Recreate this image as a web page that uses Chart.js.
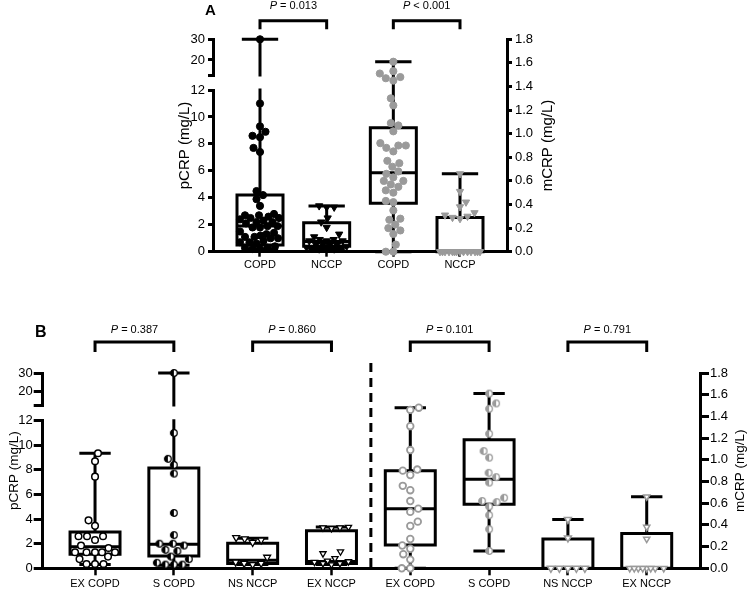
<!DOCTYPE html>
<html lang="en">
<head>
<meta charset="UTF-8">
<title>pCRP and mCRP in COPD and NCCP</title>
<script src="https://cdn.jsdelivr.net/npm/chart.js@4"></script>
<style>
    body { margin: 0; background: #fff; }
    canvas { position: absolute; left: 0; }
    #chartA { top: 0; }
    #chartB { top: 290px; }
</style>
</head>
<body>
<canvas id="chartA" width="753" height="290"></canvas>
<canvas id="chartB" width="753" height="299"></canvas>
<script>
// ---- data ----
const categoriesA = ['COPD', 'NCCP', 'COPD', 'NCCP'];
const categoriesB = ['EX COPD', 'S COPD', 'NS NCCP', 'EX NCCP', 'EX COPD', 'S COPD', 'NS NCCP', 'EX NCCP'];

// panel A, pCRP (mg/L)
const pcrpCopdA = [30, 11, 9.3, 8.9, 8.6, 8.5, 7.7, 7.4, 4.5, 4.2, 3.9, 3.4, 2.8, 2.7, 2.7, 2.6, 2.5, 2.5, 2.4, 2.3, 2.2, 2.2, 2.1, 1.9, 1.9, 1.8, 1.8, 1.5, 1.4, 1.3, 1.2, 1.1, 1.1, 1.0, 1.0, 0.8, 0.7, 0.7, 0.6, 0.4, 0.3, 0.3, 0.2, 0.2];
const pcrpNccpA = [3.4, 3.3, 3.3, 2.5, 2.2, 1.8, 1.3, 1.1, 0.9, 0.9, 0.8, 0.8, 0.8, 0.5, 0.5, 0.5, 0.5, 0.4, 0.3, 0.3, 0.3, 0.2, 0.2, 0.2];
// panel A, mCRP (mg/L)
const mcrpCopdA = [1.61, 1.53, 1.51, 1.48, 1.47, 1.45, 1.30, 1.24, 1.09, 1.07, 1.02, 0.92, 0.90, 0.90, 0.88, 0.85, 0.77, 0.75, 0.72, 0.68, 0.66, 0.63, 0.60, 0.60, 0.57, 0.55, 0.52, 0.50, 0.43, 0.42, 0.35, 0.28, 0.27, 0.23, 0.20, 0.18, 0.15, 0.06, 0, 0];
const mcrpNccpA = [0.66, 0.51, 0.42, 0.38, 0.33, 0.31, 0.30, 0.29, 0.28, 0, 0, 0, 0, 0, 0, 0, 0, 0, 0, 0, 0, 0, 0];

// box stats [min, q1, median, q3, max]
const statsPCopdA = [0.2, 0.5, 1.9, 4.2, 30];
const statsPNccpA = [0.2, 0.4, 0.75, 2.15, 3.4];
const statsMCopdA = [0, 0.41, 0.67, 1.05, 1.61];
const statsMNccpA = [0, 0, 0, 0.29, 0.66];
const pTextA = ['= 0.013', '< 0.001'];

// panel B, pCRP (mg/L)
const pcrpExCopdB = [9.35, 8.7, 7.45, 3.9, 3.45, 2.6, 2.6, 2.6, 2.3, 1.85, 1.65, 1.3, 1.3, 1.3, 1.3, 1.3, 0.95, 0.75, 0.35, 0.35, 0.35];
const pcrpSCopdB = [30, 11, 8.9, 8.4, 7.7, 4.5, 2.7, 2.0, 2.0, 1.85, 1.5, 1.4, 0.95, 0.75, 0.45, 0.3, 0.3, 0.3];
const pcrpNsNccpB = [2.5, 2.4, 2.3, 2.1, 0.9, 0.5, 0.4, 0.4, 0.3];
const pcrpExNccpB = [3.35, 3.3, 3.3, 3.25, 1.35, 1.2, 0.8, 0.6, 0.55, 0.5, 0.4, 0.4, 0.3];
// panel B, mCRP (mg/L)
const mcrpExCopdB = [1.48, 1.46, 1.31, 1.09, 0.91, 0.90, 0.86, 0.76, 0.72, 0.62, 0.55, 0.52, 0.43, 0.39, 0.27, 0.21, 0.18, 0.13, 0.08, 0, 0];
const mcrpSCopdB = [1.61, 1.52, 1.47, 1.24, 1.08, 1.02, 0.88, 0.84, 0.79, 0.65, 0.62, 0.61, 0.57, 0.49, 0.36, 0.16];
const mcrpNsNccpB = [0.45, 0.28, 0, 0, 0, 0, 0];
const mcrpExNccpB = [0.66, 0.38, 0.27, 0, 0, 0, 0, 0, 0, 0, 0];

const statsPExCopdB = [0.3, 1.15, 1.75, 2.95, 9.35];
const statsPSCopdB = [0.25, 1.0, 1.95, 8.15, 30];
const statsPNsNccpB = [0.3, 0.4, 0.65, 2.03, 2.45];
const statsPExNccpB = [0.3, 0.4, 0.55, 3.05, 3.35];
const statsMExCopdB = [0, 0.215, 0.55, 0.9, 1.48];
const statsMSCopdB = [0.16, 0.59, 0.82, 1.185, 1.61];
const statsMNsNccpB = [0, 0, 0, 0.27, 0.45];
const statsMExNccpB = [0, 0, 0, 0.32, 0.66];
const pTextB = ['= 0.387', '= 0.860', '= 0.101', '= 0.791'];

// axis ticks
const ticksLow = [0, 2, 4, 6, 8, 10, 12];
const ticksHigh = [20, 30];
const ticksRight = [0, 0.2, 0.4, 0.6, 0.8, 1.0, 1.2, 1.4, 1.6, 1.8];
const LOW_MAX = 12;

// ---- styles ----
Chart.defaults.font.family = '"Liberation Sans", Arial, sans-serif';
Chart.defaults.color = '#000';
const GREY = '#9a9a9a';

function halfDot(color, r) {
    const c = document.createElement('canvas');
    const s = Math.ceil(2 * r + 3);
    c.width = c.height = s;
    const g = c.getContext('2d');
    const m = s / 2;
    g.fillStyle = '#fff';
    g.beginPath(); g.arc(m, m, r, 0, Math.PI * 2); g.fill();
    g.fillStyle = color;
    g.beginPath(); g.arc(m, m, r, Math.PI / 2, Math.PI * 1.5); g.closePath(); g.fill();
    g.strokeStyle = color; g.lineWidth = 1.3;
    g.beginPath(); g.arc(m, m, r, 0, Math.PI * 2); g.stroke();
    return c;
}

const dot = (fill, line, r, w) => ({ pointStyle: 'circle', pointRadius: r, pointBackgroundColor: fill, pointBorderColor: line, pointBorderWidth: w });
const tri = (fill, line, r, w) => ({ pointStyle: 'triangle', pointRotation: 180, pointRadius: r, pointBackgroundColor: fill, pointBorderColor: line, pointBorderWidth: w });
const half = (color, r) => ({ pointStyle: halfDot(color, r), pointRadius: r });

const layoutA = {
    padding: { left: 163, right: 196, top: 39.3, bottom: 8.3 },
    leftW: 50, rightW: 50, xHeight: 30,
    xMin: -0.705, xMax: 3.705,
    highMin: 12.75, wHigh: 35.7, wGap: 15, wLow: 161.7,
    tick: 5, xTick: 5, tickPad: 3, xPad: 2, xFont: 11, yFont: 13, titleFont: 15,
    boxHalf: 0.345, capHalf: 0.25, dot: 7.5, maxSpread: 40,
    titleOffL: 28, titleOffR: 41,
    bracketUp: 18.6, bracketLeg: 8.6, textUp: 30.8, pFont: 11,
    letter: 'A', letterX: 205, letterY: 15, letterSize: 15
};
const layoutB = {
    padding: { left: 2.7, right: 8, top: 83, bottom: 0.7 },
    leftW: 40, rightW: 45, xHeight: 20,
    xMin: -0.664, xMax: 7.676,
    highMin: 12.9, wHigh: 32, wGap: 15.7, wLow: 147.6,
    tick: 9, xTick: 7, tickPad: 1, xPad: 2, xFont: 11, yFont: 13, titleFont: 13.5,
    boxHalf: 0.317, capHalf: 0.18, dot: 8.5, maxSpread: 40,
    titleOffL: 28.7, titleOffR: 40,
    bracketUp: 31, bracketLeg: 10, textUp: 40, pFont: 11,
    letter: 'B', letterX: 35, letterY: 47, letterSize: 16,
    divider: 3.5, dividerUp: 10
};

const groupsA = [
    { pos: 0, side: 'p', values: pcrpCopdA, stats: statsPCopdA, marker: dot('#000', '#000', 3.6, 1) },
    { pos: 1, side: 'p', values: pcrpNccpA, stats: statsPNccpA, marker: tri('#000', '#000', 4.2, 1) },
    { pos: 2, side: 'm', values: mcrpCopdA, stats: statsMCopdA, marker: dot(GREY, GREY, 3.6, 1) },
    { pos: 3, side: 'm', values: mcrpNccpA, stats: statsMNccpA, marker: tri(GREY, GREY, 4.2, 1) }
];
const groupsB = [
    { pos: 0, side: 'p', values: pcrpExCopdB, stats: statsPExCopdB, marker: dot('#fff', '#000', 3.3, 1.5) },
    { pos: 1, side: 'p', values: pcrpSCopdB, stats: statsPSCopdB, marker: half('#000', 3.3) },
    { pos: 2, side: 'p', values: pcrpNsNccpB, stats: statsPNsNccpB, marker: tri('#fff', '#000', 4, 1.3) },
    { pos: 3, side: 'p', values: pcrpExNccpB, stats: statsPExNccpB, marker: tri('#fff', '#000', 3.6, 1.3) },
    { pos: 4, side: 'm', values: mcrpExCopdB, stats: statsMExCopdB, marker: dot('#fff', GREY, 3.3, 1.8) },
    { pos: 5, side: 'm', values: mcrpSCopdB, stats: statsMSCopdB, marker: half(GREY, 3.3) },
    { pos: 6, side: 'm', values: mcrpNsNccpB, stats: statsMNsNccpB, marker: tri('#fff', GREY, 4, 1.5) },
    { pos: 7, side: 'm', values: mcrpExNccpB, stats: statsMExNccpB, marker: tri('#fff', GREY, 3.6, 1.5) }
];

// ---- datasets ----
function boxLines(g, L) {
    const [mn, q1, md, q3, mx] = g.stats;
    const p = g.pos, h = L.boxHalf, c = L.capHalf;
    const split = g.side === 'p' && mx > LOW_MAX;
    const brk = { x: p, y: null };
    const low = [
        { x: p - h, y: q1 }, { x: p + h, y: q1 }, { x: p + h, y: q3 }, { x: p - h, y: q3 }, { x: p - h, y: q1 }, brk,
        { x: p - h, y: md }, { x: p + h, y: md }, brk,
        { x: p, y: mn }, { x: p, y: q1 }, brk,
        { x: p, y: q3 }, { x: p, y: split ? LOW_MAX : mx }, brk,
        { x: p - c, y: mn }, { x: p + c, y: mn }
    ];
    const high = [];
    if (split) {
        high.push({ x: p, y: L.highMin }, { x: p, y: mx }, brk, { x: p - c, y: mx }, { x: p + c, y: mx });
    } else {
        low.push(brk, { x: p - c, y: mx }, { x: p + c, y: mx });
    }
    return { low, high };
}

function lineSet(data, axis) {
    return {
        type: 'line', data: data, yAxisID: axis, showLine: true, spanGaps: false,
        borderColor: '#000', borderWidth: 3, pointRadius: 0, tension: 0,
        borderCapStyle: 'square', borderJoinStyle: 'miter', clip: false, order: 1
    };
}

function pointSet(g, vals, axis) {
    return Object.assign({
        type: 'scatter', yAxisID: axis, clip: false, order: 0,
        data: vals.map(v => ({ x: g.pos, y: v })),
        center: g.pos, isPoints: true
    }, g.marker);
}

function buildDatasets(groups, L) {
    const ds = [];
    groups.forEach(g => {
        const axis = g.side === 'm' ? 'yR' : 'yLow';
        const low = g.values.filter(v => g.side === 'm' || v <= LOW_MAX);
        const high = g.side === 'm' ? [] : g.values.filter(v => v > LOW_MAX);
        ds.push(pointSet(g, low, axis));
        if (high.length) ds.push(pointSet(g, high, 'yHigh'));
        const b = boxLines(g, L);
        ds.push(lineSet(b.low, axis));
        if (b.high.length) ds.push(lineSet(b.high, 'yHigh'));
    });
    return ds;
}

// ---- scales ----
function makeScales(cats, L) {
    const axisLine = { display: true, color: '#000', width: 3 };
    const tickGrid = { display: true, drawOnChartArea: false, drawTicks: true, tickLength: L.tick, tickWidth: 3, lineWidth: 3, color: '#000' };
    const yTicks = { autoSkip: false, padding: L.tickPad, color: '#000', font: { size: L.yFont } };
    return {
        x: {
            type: 'linear', position: 'bottom', min: L.xMin, max: L.xMax,
            border: axisLine,
            grid: Object.assign({}, tickGrid, { tickLength: L.xTick, tickWidth: 2.5 }),
            ticks: { autoSkip: false, maxRotation: 0, padding: L.xPad, color: '#000', font: { size: L.xFont }, callback: (v, i) => cats[i] },
            afterBuildTicks: s => { s.ticks = cats.map((c, i) => ({ value: i })); },
            afterFit: s => { s.height = L.xHeight; }
        },
        yLow: {
            type: 'linear', position: 'left', stack: 'left', stackWeight: L.wLow, min: 0, max: LOW_MAX,
            border: axisLine, grid: tickGrid, ticks: yTicks,
            afterBuildTicks: s => { s.ticks = ticksLow.map(v => ({ value: v })); },
            afterFit: s => { s.width = L.leftW; }
        },
        yGap: {
            type: 'linear', position: 'left', stack: 'left', stackWeight: L.wGap, min: 0, max: 1,
            border: { display: false }, grid: { display: false }, ticks: { display: false },
            afterFit: s => { s.width = L.leftW; }
        },
        yHigh: {
            type: 'linear', position: 'left', stack: 'left', stackWeight: L.wHigh, min: L.highMin, max: 30,
            border: axisLine, grid: tickGrid,
            ticks: Object.assign({}, yTicks, { callback: v => (v === L.highMin ? '' : v) }),
            afterBuildTicks: s => { s.ticks = [L.highMin].concat(ticksHigh).map(v => ({ value: v })); },
            afterFit: s => { s.width = L.leftW; }
        },
        yR: {
            type: 'linear', position: 'right', min: 0, max: 1.8,
            border: axisLine, grid: tickGrid,
            ticks: Object.assign({}, yTicks, { callback: v => v.toFixed(1) }),
            afterBuildTicks: s => { s.ticks = ticksRight.map(v => ({ value: v })); },
            afterFit: s => { s.width = L.rightW; }
        }
    };
}

// ---- titles, brackets, P values, divider ----
const annotate = {
    id: 'annotate',
    afterDraw(chart, args, o) {
        const { ctx, chartArea: a } = chart;
        const x = chart.scales.x;
        const L = o.layout;
        const mid = (a.top + a.bottom) / 2;
        ctx.save();
        ctx.fillStyle = '#000';
        ctx.strokeStyle = '#000';
        ctx.textAlign = 'center';
        ctx.textBaseline = 'middle';
        ctx.font = L.titleFont + 'px "Liberation Sans", Arial, sans-serif';
        [[a.left - L.titleOffL, 'pCRP (mg/L)'], [a.right + L.titleOffR, 'mCRP (mg/L)']].forEach(t => {
            ctx.save();
            ctx.translate(t[0], mid);
            ctx.rotate(-Math.PI / 2);
            ctx.fillText(t[1], 0, 0);
            ctx.restore();
        });

        ctx.lineWidth = 3;
        ctx.lineCap = 'butt';
        ctx.lineJoin = 'miter';
        const top = a.top - L.bracketUp;
        o.pTexts.forEach((txt, i) => {
            const x1 = x.getPixelForValue(2 * i), x2 = x.getPixelForValue(2 * i + 1);
            ctx.beginPath();
            ctx.moveTo(x1, top + L.bracketLeg);
            ctx.lineTo(x1, top);
            ctx.lineTo(x2, top);
            ctx.lineTo(x2, top + L.bracketLeg);
            ctx.stroke();
            const fI = 'italic ' + L.pFont + 'px "Liberation Sans", Arial, sans-serif';
            const fN = L.pFont + 'px "Liberation Sans", Arial, sans-serif';
            const rest = ' ' + txt;
            ctx.font = fI; const wP = ctx.measureText('P').width;
            ctx.font = fN; const wR = ctx.measureText(rest).width;
            const sx = (x1 + x2) / 2 - (wP + wR) / 2;
            ctx.textAlign = 'left';
            ctx.textBaseline = 'alphabetic';
            ctx.font = fI; ctx.fillText('P', sx, a.top - L.textUp);
            ctx.font = fN; ctx.fillText(rest, sx + wP, a.top - L.textUp);
        });

        ctx.font = 'bold ' + L.letterSize + 'px "Liberation Sans", Arial, sans-serif';
        ctx.textAlign = 'left';
        ctx.textBaseline = 'alphabetic';
        ctx.fillText(L.letter, L.letterX, L.letterY);

        if (L.divider !== undefined) {
            const dx = x.getPixelForValue(L.divider);
            ctx.setLineDash([9, 6]);
            ctx.beginPath();
            ctx.moveTo(dx, a.top - L.dividerUp);
            ctx.lineTo(dx, a.bottom);
            ctx.stroke();
        }
        ctx.restore();
    }
};

// beeswarm: push each point sideways (pixel space) until it clears the ones already placed
function spreadPoints(chart, L) {
    const xs = chart.scales.x;
    const halfW = L.maxSpread / 2;
    const cands = [0];
    for (let d = 0.5; d <= halfW; d += 0.5) cands.push(d, -d);
    chart.data.datasets.forEach(ds => {
        if (!ds.isPoints) return;
        const ys = chart.scales[ds.yAxisID];
        const cx = xs.getPixelForValue(ds.center);
        const pts = ds.data.map(p => ({ p, py: ys.getPixelForValue(p.y) })).sort((a, b) => b.py - a.py);
        const placed = [];
        pts.forEach((q, n) => {
            const near = placed.filter(o => Math.abs(o.py - q.py) < L.dot);
            let best = 0, bestD = -1;
            for (const c0 of cands) {
                const c = n % 2 ? -c0 : c0;
                let dmin = Infinity;
                near.forEach(o => { dmin = Math.min(dmin, Math.hypot(c - o.ox, q.py - o.py)); });
                if (dmin >= L.dot) { best = c; bestD = dmin; break; }
                if (dmin > bestD + 0.01) { bestD = dmin; best = c; }
            }
            q.ox = best;
            placed.push(q);
            q.p.x = xs.getValueForPixel(cx + best);
        });
    });
    chart.update('none');
}

function makeChart(id, cats, groups, pTexts, L) {
    const chart = new Chart(document.getElementById(id), {
        type: 'scatter',
        data: { datasets: buildDatasets(groups, L) },
        options: {
            responsive: false,
            animation: false,
            events: [],
            layout: { padding: L.padding, autoPadding: false },
            scales: makeScales(cats, L),
            plugins: {
                legend: { display: false },
                tooltip: { enabled: false },
                annotate: { layout: L, pTexts: pTexts }
            }
        },
        plugins: [annotate]
    });
    spreadPoints(chart, L);
    return chart;
}

makeChart('chartA', categoriesA, groupsA, pTextA, layoutA);
makeChart('chartB', categoriesB, groupsB, pTextB, layoutB);
</script>
</body>
</html>
